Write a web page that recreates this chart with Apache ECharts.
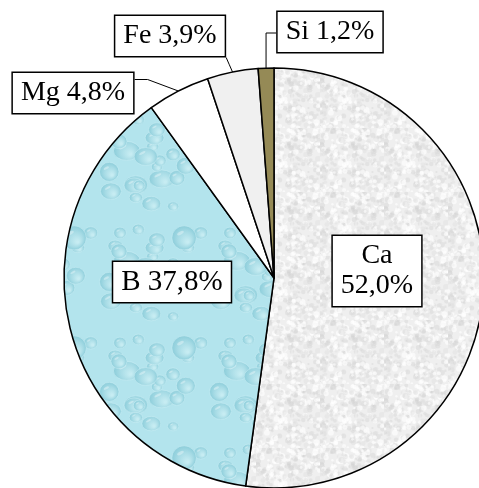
<!DOCTYPE html>
<html>
<head>
<meta charset="utf-8">
<script src="https://cdn.jsdelivr.net/npm/echarts@6/dist/echarts.min.js"></script>
<style>
  html, body { margin: 0; padding: 0; background: #ffffff; }
  #chart { width: 479px; height: 488px; }
</style>
</head>
<body>
<div id="chart"></div>
<script>
// Composition by element, percent
const elements = ['Ca', 'B', 'Mg', 'Fe', 'Si'];
const shares = [52.0, 37.8, 4.8, 3.9, 1.2];
const insideLabels = ['Ca', 'B'];

// Pie geometry
const PIE_CENTER = [274, 278];
const PIE_RADIUS = 210;
const START_ANGLE = 90;

// Small deterministic generator for the surface textures
function lcg(seed) {
  let s = seed >>> 0;
  return function () {
    s = (s * 1664525 + 1013904223) >>> 0;
    return s / 4294967296;
  };
}

// Mottled light-grey stone texture
function stoneTexture() {
  const N = 64;
  const c = document.createElement('canvas');
  c.width = N; c.height = N;
  const g = c.getContext('2d');
  g.fillStyle = '#efefef';
  g.fillRect(0, 0, N, N);
  const rnd = lcg(7);
  for (let i = 0; i < 360; i++) {
    const x = rnd() * N, y = rnd() * N;
    const v = rnd();
    g.fillStyle = v < 0.3 ? 'rgba(205,205,205,0.35)' : (v < 0.55 ? 'rgba(225,225,225,0.45)' : 'rgba(255,255,255,0.6)');
    const s = 1 + rnd() * 2;
    g.beginPath();
    g.arc(x, y, s, 0, Math.PI * 2);
    g.fill();
  }
  return c;
}

// Light blue surface with water drops
function dropsTexture() {
  const N = 110;
  const c = document.createElement('canvas');
  c.width = N; c.height = N;
  const g = c.getContext('2d');
  g.fillStyle = '#b3e4ed';
  g.fillRect(0, 0, N, N);
  const rnd = lcg(53);
  for (let i = 0; i < 26; i++) {
    const cx = rnd() * N, cy = rnd() * N;
    const rx = 5 + rnd() * 9, ry = rx * (0.7 + rnd() * 0.3);
    for (let ox = -N; ox <= N; ox += N) {
      for (let oy = -N; oy <= N; oy += N) {
        const x = cx + ox, y = cy + oy;
        if (x + rx < 0 || x - rx > N || y + ry < 0 || y - ry > N) continue;
        const grad = g.createRadialGradient(x + rx * 0.3, y + ry * 0.35, 1, x, y, rx);
        grad.addColorStop(0, '#c6ecf2');
        grad.addColorStop(0.6, '#a6dbe5');
        grad.addColorStop(1, '#8ccdda');
        g.fillStyle = grad;
        g.beginPath();
        g.ellipse(x, y, rx, ry, 0, 0, Math.PI * 2);
        g.fill();
        g.strokeStyle = 'rgba(205,240,246,0.5)';
        g.lineWidth = 1;
        g.stroke();
        g.fillStyle = 'rgba(255,255,255,0.35)';
        g.beginPath();
        g.ellipse(x - rx * 0.3, y - ry * 0.4, rx * 0.3, ry * 0.13, -0.5, 0, Math.PI * 2);
        g.fill();
      }
    }
  }
  return c;
}

const sliceColors = {
  Ca: { image: stoneTexture(), repeat: 'repeat' },
  B: { image: dropsTexture(), repeat: 'repeat' },
  Mg: '#ffffff',
  Fe: '#f0f0f0',
  Si: '#958a56'
};

// Label box centres per element
const labelCentres = {
  Ca: [377, 271],
  B: [172, 282],
  Mg: [73, 93],
  Fe: [170, 36],
  Si: [330, 32]
};

function fmt(v) {
  return v.toFixed(1).replace('.', ',') + '%';
}

// Point on the rim at the middle of each slice, from the data
const total = shares.reduce(function (a, b) { return a + b; }, 0);
const rimPoints = [];
(function () {
  let cum = 0;
  shares.forEach(function (v) {
    const frac = (cum + v / 2) / total;
    const a = (START_ANGLE - frac * 360) * Math.PI / 180;
    rimPoints.push([PIE_CENTER[0] + PIE_RADIUS * Math.cos(a), PIE_CENTER[1] - PIE_RADIUS * Math.sin(a)]);
    cum += v;
  });
})();

const data = elements.map(function (name, i) {
  const inside = insideLabels.indexOf(name) >= 0;
  return {
    name: name,
    value: shares[i],
    itemStyle: { color: sliceColors[name] },
    label: { position: inside ? 'inside' : 'outside', fontSize: name === 'B' ? 29 : 28 },
    labelLine: { show: !inside }
  };
});

const chart = echarts.init(document.getElementById('chart'), null, { renderer: 'canvas' });

chart.setOption({
  animation: false,
  backgroundColor: '#ffffff',
  series: [{
    type: 'pie',
    center: PIE_CENTER,
    radius: PIE_RADIUS,
    startAngle: START_ANGLE,
    clockwise: true,
    avoidLabelOverlap: false,
    data: data,
    itemStyle: { borderColor: '#000000', borderWidth: 1.5 },
    emphasis: { disabled: true },
    label: {
      show: true,
      formatter: function (p) {
        return p.name === 'Ca' ? p.name + '\n' + fmt(p.value) : p.name + ' ' + fmt(p.value);
      },
      fontFamily: '"Liberation Serif", "Times New Roman", serif',
      fontSize: 28,
      lineHeight: 30,
      color: '#000000',
      backgroundColor: '#ffffff',
      borderColor: '#000000',
      borderWidth: 1.5,
      padding: [5, 8],
      align: 'center'
    },
    labelLine: {
      show: true,
      lineStyle: { color: '#000000', width: 1 }
    },
    labelLayout: function (params) {
      const idx = params.dataIndex;
      const name = elements[idx];
      const c = labelCentres[name];
      const w = params.labelRect.width, h = params.labelRect.height;
      const out = { x: c[0], y: c[1], align: 'center', verticalAlign: 'middle' };
      const edge = rimPoints[idx];
      const left = c[0] - w / 2, right = c[0] + w / 2, top = c[1] - h / 2, bottom = c[1] + h / 2;
      if (name === 'Mg') {
        out.labelLinePoints = [edge, [right + 13, top + 8], [right, top + 8]];
      } else if (name === 'Fe') {
        out.labelLinePoints = [edge, [(edge[0] + right) / 2, (edge[1] + bottom) / 2], [right, bottom]];
      } else if (name === 'Si') {
        out.labelLinePoints = [edge, [edge[0], c[1] + 1], [left, c[1] + 1]];
      }
      return out;
    }
  }]
});
</script>
</body>
</html>
